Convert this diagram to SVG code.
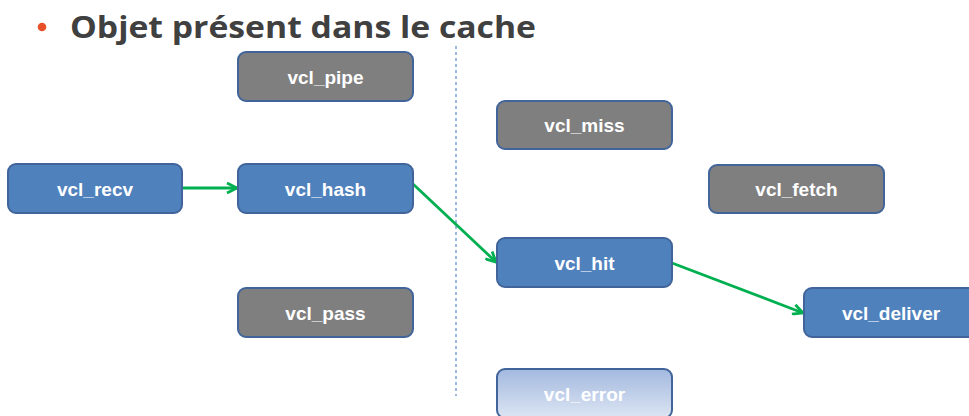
<svg xmlns="http://www.w3.org/2000/svg" width="969" height="416" viewBox="0 0 969 416">
<style>
.box{stroke:#41649A;stroke-width:2}
.blue{fill:#4F81BD}
.gray{fill:#7F7F7F}
.lbl{font-family:"Liberation Sans",Arial,sans-serif;font-weight:bold;font-size:19px;fill:#FFFFFF;text-anchor:middle}
.title{font-family:"Open Sans","Liberation Sans",sans-serif;font-weight:bold;font-size:31px;fill:#404040}
.conn{stroke:#00B050;stroke-width:2.8;fill:none;marker-end:url(#arr)}
</style>
<defs>
<marker id="arr" viewBox="0 0 12 12" refX="11" refY="6" markerWidth="12" markerHeight="12" markerUnits="userSpaceOnUse" orient="auto">
<path d="M1,1 L11,6 L1,11" fill="none" stroke="#00B050" stroke-width="2.8"/>
</marker>
<linearGradient id="errg" x1="0" y1="0" x2="0" y2="1">
<stop offset="0" stop-color="#A3B9DF"/>
<stop offset="1" stop-color="#DCE5F3"/>
</linearGradient>
</defs>
<rect width="969" height="416" fill="#FFFFFF"/>
<circle cx="42" cy="27" r="4.3" fill="#E8502A"/>
<text class="title" x="70" y="38" textLength="466" lengthAdjust="spacingAndGlyphs">Objet présent dans le cache</text>
<line x1="456" y1="46" x2="456" y2="396" stroke="#7BA3D6" stroke-width="1.5" stroke-dasharray="3,3"/>
<g id="connectors">
<line class="conn" x1="182" y1="188" x2="237" y2="188"/>
<line class="conn" x1="413" y1="184" x2="496" y2="262"/>
<line class="conn" x1="672" y1="263" x2="803" y2="313"/>
</g>
<g id="vcl_pipe"><rect class="box gray" x="238" y="52" width="175" height="49" rx="8"/><text class="lbl" x="325.5" y="84">vcl_pipe</text></g>
<g id="vcl_recv"><rect class="box blue" x="8" y="164" width="174" height="49" rx="8"/><text class="lbl" x="95" y="196">vcl_recv</text></g>
<g id="vcl_hash"><rect class="box blue" x="238" y="164" width="175" height="49" rx="8"/><text class="lbl" x="325.5" y="196">vcl_hash</text></g>
<g id="vcl_pass"><rect class="box gray" x="238" y="288" width="175" height="49" rx="8"/><text class="lbl" x="325.5" y="320">vcl_pass</text></g>
<g id="vcl_miss"><rect class="box gray" x="497" y="101" width="175" height="48" rx="8"/><text class="lbl" x="584.5" y="132">vcl_miss</text></g>
<g id="vcl_fetch"><rect class="box gray" x="709" y="165" width="175" height="48" rx="8"/><text class="lbl" x="796.5" y="196">vcl_fetch</text></g>
<g id="vcl_hit"><rect class="box blue" x="497" y="238" width="175" height="49" rx="8"/><text class="lbl" x="584.5" y="270">vcl_hit</text></g>
<g id="vcl_deliver"><rect class="box blue" x="804" y="288" width="176" height="49" rx="8"/><text class="lbl" x="891" y="320">vcl_deliver</text></g>
<g id="vcl_error"><rect class="box" fill="url(#errg)" x="497" y="369" width="175" height="49" rx="8"/><text class="lbl" x="584.5" y="401">vcl_error</text></g>
</svg>
